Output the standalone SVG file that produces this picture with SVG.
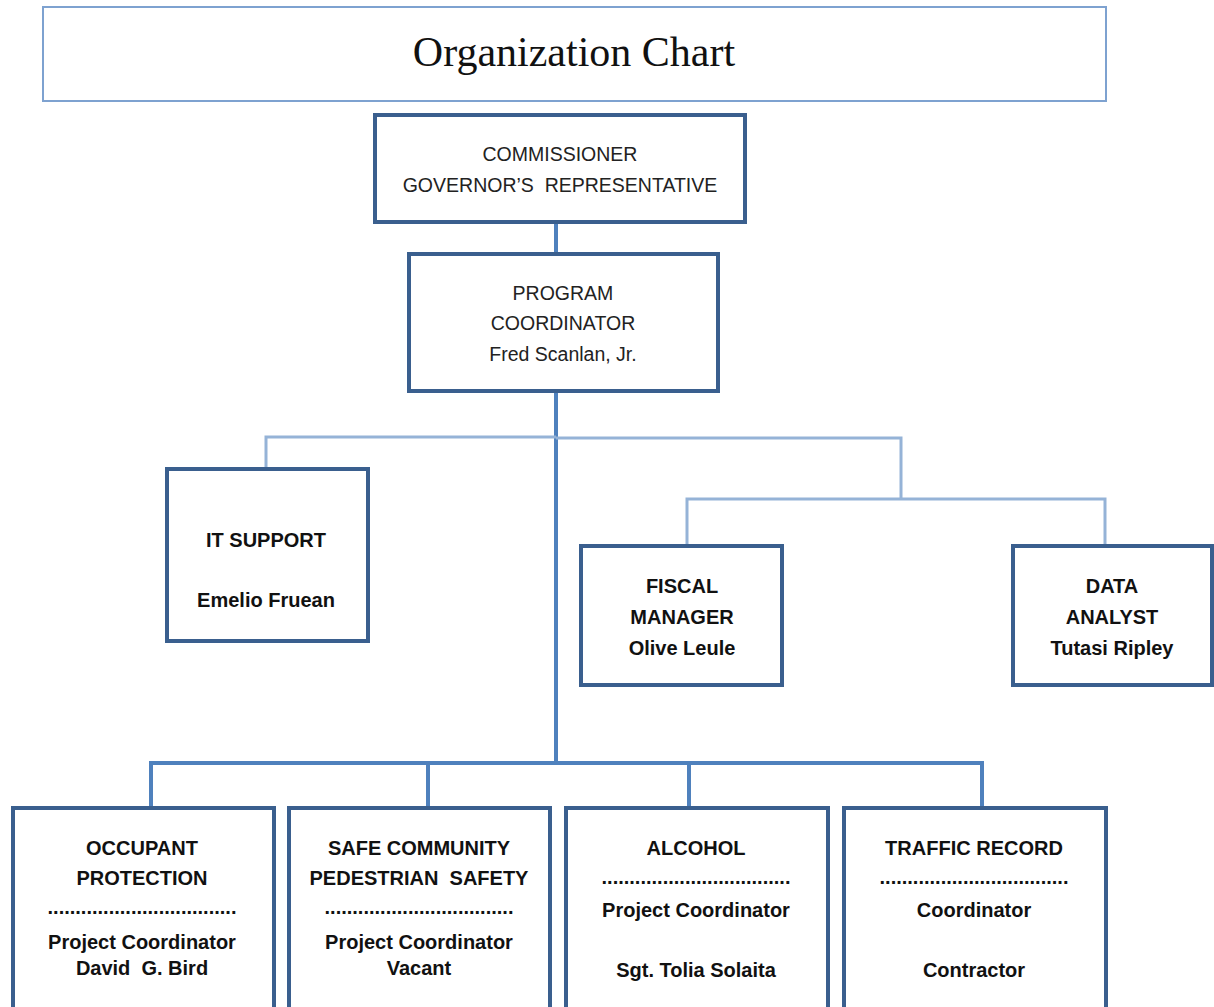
<svg xmlns="http://www.w3.org/2000/svg" width="1214" height="1007" viewBox="0 0 1214 1007">
<style>
.box{fill:#fff;stroke:#3a5f8e;stroke-width:4}
.title{fill:#fff;stroke:#7ea2d0;stroke-width:2}
.main{fill:none;stroke:#4f81bd;stroke-width:4}
.light{fill:none;stroke:#95b3d7;stroke-width:3}
text{white-space:pre}
.t{font-family:"Liberation Sans",Arial,sans-serif;font-size:19.5px;fill:#222;text-anchor:middle}
.b{font-family:"Liberation Sans",Arial,sans-serif;font-size:20px;font-weight:bold;fill:#111;text-anchor:middle}
.h{font-family:"Liberation Serif","Times New Roman",serif;font-size:42px;fill:#111;text-anchor:middle}
</style>
<rect width="1214" height="1007" fill="#fff"/>
<g id="connectors">
<line class="main" x1="556" y1="222" x2="556" y2="254"/>
<line class="main" x1="556" y1="391" x2="556" y2="765"/>
<path class="light" d="M266,469 V437 H556 M556,438 H901 V499 M687,546 V499 H1105 V546"/>
<path class="main" d="M151,808 V763 H982 V808 M428,763 V808 M689,763 V808"/>
</g>
<g id="title">
<rect class="title" x="43" y="7" width="1063" height="94"/>
<text class="h" x="574" y="66">Organization Chart</text>
</g>
<g id="commissioner">
<rect class="box" x="375" y="115" width="370" height="107"/>
<text class="t" x="560" y="161">COMMISSIONER</text>
<text class="t" x="560" y="192" xml:space="preserve">GOVERNOR’S  REPRESENTATIVE</text>
</g>
<g id="program-coordinator">
<rect class="box" x="409" y="254" width="309" height="137"/>
<text class="t" x="563" y="300">PROGRAM</text>
<text class="t" x="563" y="330">COORDINATOR</text>
<text class="t" x="563" y="361">Fred Scanlan, Jr.</text>
</g>
<g id="it-support">
<rect class="box" x="167" y="469" width="201" height="172"/>
<text class="b" x="266" y="547">IT SUPPORT</text>
<text class="b" x="266" y="607">Emelio Fruean</text>
</g>
<g id="fiscal-manager">
<rect class="box" x="581" y="546" width="201" height="139"/>
<text class="b" x="682" y="593">FISCAL</text>
<text class="b" x="682" y="624">MANAGER</text>
<text class="b" x="682" y="655">Olive Leule</text>
</g>
<g id="data-analyst">
<rect class="box" x="1013" y="546" width="199" height="139"/>
<text class="b" x="1112" y="593">DATA</text>
<text class="b" x="1112" y="624">ANALYST</text>
<text class="b" x="1112" y="655">Tutasi Ripley</text>
</g>
<g id="occupant-protection">
<rect class="box" x="13" y="808" width="261" height="210"/>
<text class="b" x="142" y="855">OCCUPANT</text>
<text class="b" x="142" y="885">PROTECTION</text>
<text class="b" x="142" y="914">..................................</text>
<text class="b" x="142" y="949">Project Coordinator</text>
<text class="b" x="142" y="975" xml:space="preserve">David  G. Bird</text>
</g>
<g id="safe-community">
<rect class="box" x="289" y="808" width="261" height="210"/>
<text class="b" x="419" y="855">SAFE COMMUNITY</text>
<text class="b" x="419" y="885" xml:space="preserve">PEDESTRIAN  SAFETY</text>
<text class="b" x="419" y="914">..................................</text>
<text class="b" x="419" y="949">Project Coordinator</text>
<text class="b" x="419" y="975">Vacant</text>
</g>
<g id="alcohol">
<rect class="box" x="566" y="808" width="262" height="210"/>
<text class="b" x="696" y="855">ALCOHOL</text>
<text class="b" x="696" y="884">..................................</text>
<text class="b" x="696" y="917">Project Coordinator</text>
<text class="b" x="696" y="977">Sgt. Tolia Solaita</text>
</g>
<g id="traffic-record">
<rect class="box" x="844" y="808" width="262" height="210"/>
<text class="b" x="974" y="855">TRAFFIC RECORD</text>
<text class="b" x="974" y="884">..................................</text>
<text class="b" x="974" y="917">Coordinator</text>
<text class="b" x="974" y="977">Contractor</text>
</g>
</svg>
